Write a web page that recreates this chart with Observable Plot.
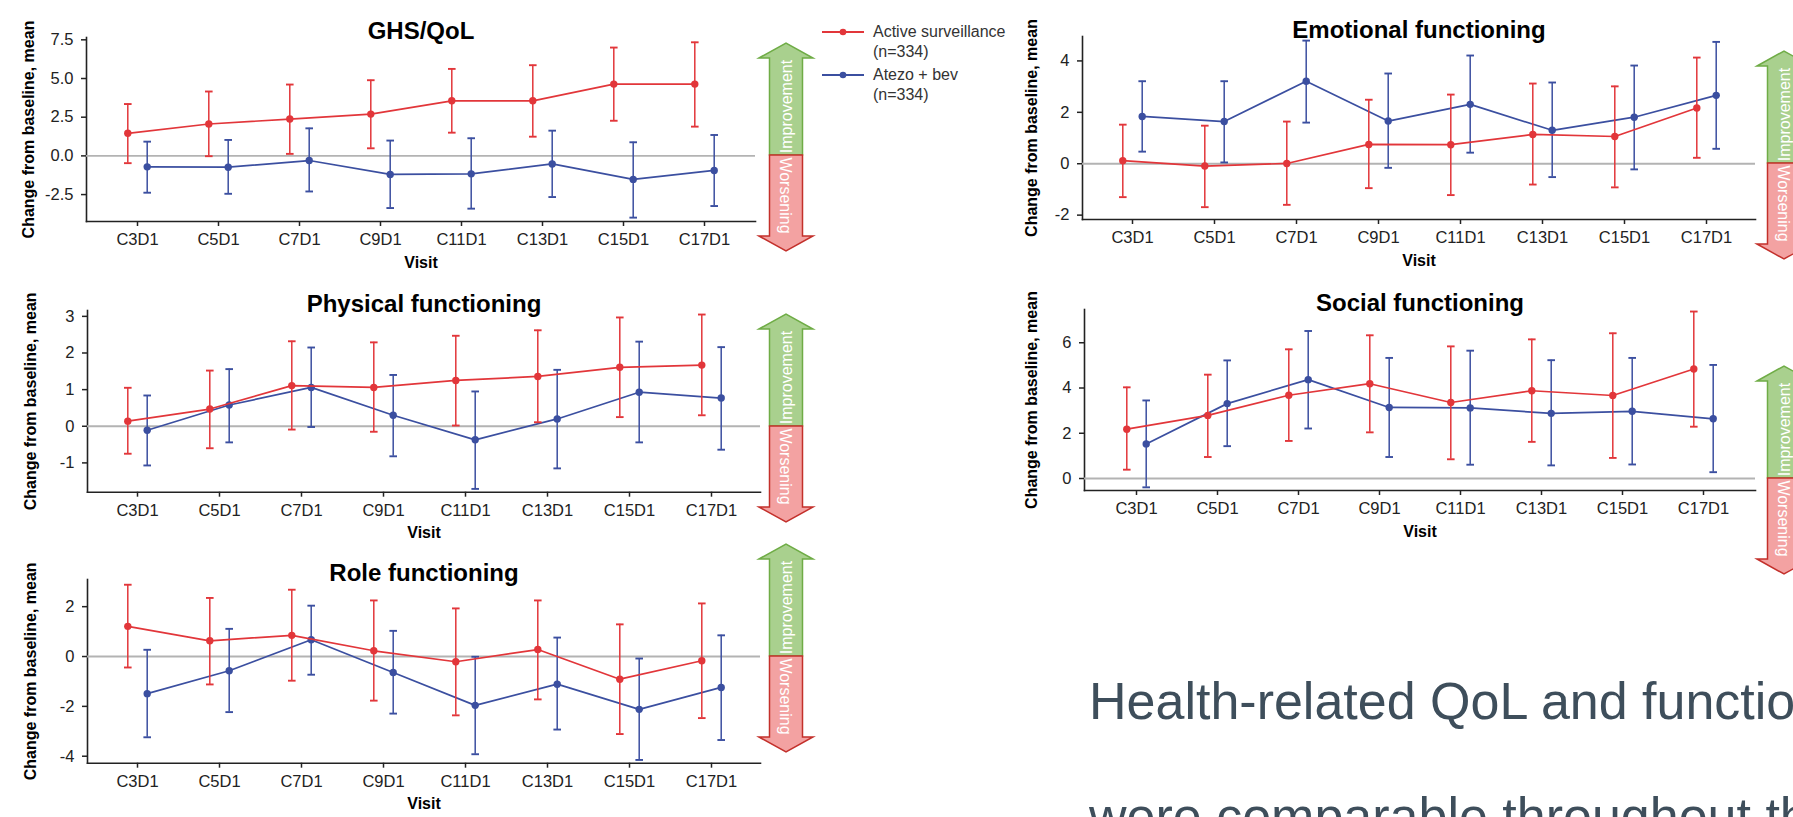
<!DOCTYPE html>
<html>
<head>
<meta charset="utf-8">
<script src="https://cdn.jsdelivr.net/npm/d3@7"></script>
<script src="https://cdn.jsdelivr.net/npm/@observablehq/plot@0.6"></script>
<style>
  html, body { margin: 0; padding: 0; background: #fff; }
  body { width: 1793px; height: 817px; overflow: hidden; position: relative; font-family: "Liberation Sans", Arial, sans-serif; }
  .abs { position: absolute; }
  svg [aria-label="frame"], svg [aria-label="frame"] * { stroke-width: 1.6px; }
  svg [aria-label="x-axis tick"], svg [aria-label="y-axis tick"] { stroke-width: 1.5px; }
</style>
</head>
<body>
<script>
// ---------- data ----------
const visits = ["C3D1", "C5D1", "C7D1", "C9D1", "C11D1", "C13D1", "C15D1", "C17D1"];
const seriesNames = ["Active surveillance", "Atezo + bev"];
const seriesN = ["(n=334)", "(n=334)"];

// each entry: [mean, lower, upper]
const ghsActive = [[1.46,-0.47,3.35],[2.06,-0.02,4.16],[2.38,0.13,4.61],[2.70,0.49,4.89],[3.56,1.50,5.62],[3.56,1.24,5.86],[4.64,2.27,7.00],[4.64,1.89,7.34]];
const ghsAtezo  = [[-0.71,-2.38,0.92],[-0.73,-2.45,1.03],[-0.30,-2.30,1.78],[-1.20,-3.37,0.99],[-1.16,-3.41,1.14],[-0.52,-2.66,1.63],[-1.52,-3.99,0.88],[-0.94,-3.24,1.35]];

const physActive = [[0.14,-0.75,1.05],[0.47,-0.60,1.52],[1.11,-0.09,2.32],[1.06,-0.15,2.29],[1.25,0.02,2.47],[1.36,0.11,2.62],[1.61,0.25,2.97],[1.67,0.30,3.05]];
const physAtezo  = [[-0.11,-1.07,0.84],[0.58,-0.44,1.56],[1.06,-0.02,2.15],[0.30,-0.82,1.40],[-0.37,-1.71,0.95],[0.20,-1.15,1.54],[0.93,-0.44,2.31],[0.77,-0.64,2.16]];

const roleActive = [[1.21,-0.44,2.88],[0.63,-1.12,2.35],[0.85,-0.97,2.68],[0.23,-1.77,2.25],[-0.21,-2.36,1.93],[0.28,-1.72,2.25],[-0.91,-3.11,1.29],[-0.17,-2.47,2.13]];
const roleAtezo  = [[-1.49,-3.24,0.27],[-0.57,-2.23,1.11],[0.67,-0.73,2.04],[-0.64,-2.29,1.03],[-1.96,-3.92,-0.01],[-1.11,-2.93,0.76],[-2.12,-4.15,-0.08],[-1.24,-3.35,0.85]];

const emoActive = [[0.12,-1.30,1.52],[-0.09,-1.69,1.48],[0.01,-1.60,1.64],[0.75,-0.95,2.49],[0.74,-1.22,2.69],[1.14,-0.81,3.12],[1.06,-0.92,3.01],[2.17,0.23,4.13]];
const emoAtezo  = [[1.84,0.47,3.21],[1.64,0.05,3.21],[3.21,1.60,4.79],[1.66,-0.16,3.51],[2.31,0.43,4.21],[1.30,-0.52,3.16],[1.81,-0.22,3.82],[2.66,0.58,4.74]];

const socActive = [[2.18,0.39,4.03],[2.79,0.95,4.59],[3.68,1.66,5.71],[4.19,2.04,6.33],[3.36,0.85,5.84],[3.88,1.62,6.15],[3.67,0.91,6.42],[4.84,2.29,7.38]];
const socAtezo  = [[1.53,-0.39,3.45],[3.31,1.43,5.22],[4.37,2.21,6.52],[3.14,0.95,5.33],[3.12,0.61,5.65],[2.88,0.58,5.23],[2.97,0.62,5.33],[2.64,0.28,5.02]];

const ghsTicks  = [-2.5, 0, 2.5, 5, 7.5];
const physTicks = [-1, 0, 1, 2, 3];
const roleTicks = [-4, -2, 0, 2];
const emoTicks  = [-2, 0, 2, 4];
const socTicks  = [0, 2, 4, 6];

const titles = ["GHS/QoL", "Physical functioning", "Role functioning", "Emotional functioning", "Social functioning"];
const yLabel = "Change from baseline, mean";
const xLabel = "Visit";
const arrowLabels = ["Improvement", "Worsening"];
const bodyLines = ["Health-related QoL and functioning", "were comparable throughout the"];

// ---------- styles ----------
const RED = "#e2363a";
const BLUE = "#3b4fa0";
const fmt1 = d => d.toFixed(1);
const fmt0 = d => String(d);

const panels = [
  {title: titles[0], a: ghsActive,  b: ghsAtezo,  ticks: ghsTicks,  fmt: fmt1, domain: [-4.24, 7.65], left: 0,    top: 0,   width: 760, height: 280, mt: 37, mb: 59,   ml: 86, mr: 5,  pad: 0.58, arrowX: 759,  ylx: -58},
  {title: titles[1], a: physActive, b: physAtezo, ticks: physTicks, fmt: fmt0, domain: [-1.80, 3.16], left: 0,    top: 270, width: 765, height: 280, mt: 40, mb: 58.3, ml: 87, mr: 5,  pad: 0.58, arrowX: 759,  ylx: -57},
  {title: titles[2], a: roleActive, b: roleAtezo, ticks: roleTicks, fmt: fmt0, domain: [-4.28, 3.09], left: 0,    top: 540, width: 765, height: 277, mt: 39, mb: 54.3, ml: 87, mr: 5,  pad: 0.58, arrowX: 759,  ylx: -57},
  {title: titles[3], a: emoActive,  b: emoAtezo,  ticks: emoTicks,  fmt: fmt0, domain: [-2.17, 4.95], left: 1000, top: 0,   width: 793, height: 280, mt: 36, mb: 61,   ml: 82, mr: 38, pad: 0.6,  arrowX: 1757, ylx: -51},
  {title: titles[4], a: socActive,  b: socAtezo,  ticks: socTicks,  fmt: fmt0, domain: [-0.53, 7.47], left: 1000, top: 270, width: 793, height: 280, mt: 39, mb: 60,   ml: 84, mr: 38, pad: 0.6,  arrowX: 1757, ylx: -53}
];

const capSymbol = {
  draw(ctx, size) {
    const r = Math.sqrt(size / Math.PI);
    ctx.moveTo(-r, 0);
    ctx.lineTo(r, 0);
  }
};

function rows(arr) {
  return visits.map((v, i) => ({visit: v, mean: arr[i][0], lo: arr[i][1], hi: arr[i][2]}));
}

function seriesMarks(data, color, off) {
  return [
    Plot.ruleX(data, {x: "visit", y1: "lo", y2: "hi", stroke: color, strokeWidth: 1.5, dx: off}),
    Plot.dot(data, {x: "visit", y: "lo", symbol: capSymbol, r: 3.8, fill: "none", stroke: color, strokeWidth: 1.9, dx: off}),
    Plot.dot(data, {x: "visit", y: "hi", symbol: capSymbol, r: 3.8, fill: "none", stroke: color, strokeWidth: 1.9, dx: off}),
    Plot.lineY(data, {x: "visit", y: "mean", stroke: color, strokeWidth: 1.7, dx: off}),
    Plot.dot(data, {x: "visit", y: "mean", r: 3.7, fill: color, dx: off})
  ];
}

const body = document.body;

function place(el, left, top) {
  el.classList.add("abs");
  el.style.left = left + "px";
  el.style.top = top + "px";
  body.appendChild(el);
  return el;
}

const arrowInfo = [];

for (const p of panels) {
  const chart = Plot.plot({
    width: p.width,
    height: p.height,
    marginLeft: p.ml,
    marginRight: p.mr,
    marginTop: p.mt,
    marginBottom: p.mb,
    style: {fontSize: "16.5px", fontFamily: "Liberation Sans, Arial, sans-serif", color: "#222", background: "transparent", overflow: "visible"},
    x: {type: "point", domain: visits, padding: p.pad, tickSize: 5, tickPadding: 7, line: true, label: null},
    y: {domain: p.domain, ticks: p.ticks, tickFormat: p.fmt, tickSize: 5, tickPadding: 8, line: true, label: null},
    marks: [
      Plot.ruleY([0], {stroke: "#b3b3b3", strokeWidth: 1.8}),
      ...seriesMarks(rows(p.b), BLUE, 9.7),
      ...seriesMarks(rows(p.a), RED, -9.7),
      Plot.text([p.title], {frameAnchor: "top", dy: -15.5, textAnchor: "middle", fontSize: 24, fontWeight: "bold", fill: "#000"}),
      Plot.text([xLabel], {frameAnchor: "bottom", dy: 46, textAnchor: "middle", fontSize: 16, fontWeight: "bold", fill: "#000"}),
      Plot.text([yLabel], {frameAnchor: "left", dx: p.ylx, rotate: -90, textAnchor: "middle", lineAnchor: "middle", fontSize: 16, fontWeight: "bold", fill: "#000"})
    ]
  });
  place(chart, p.left, p.top);
  arrowInfo.push({x: p.arrowX, zero: p.top + chart.scale("y").apply(0)});
}

// ---------- improvement / worsening arrows ----------
const NS = "http://www.w3.org/2000/svg";
for (const a of arrowInfo) {
  const W = 56, up = 112, down = 96, head = 15, half = 27, sh = 16.5;
  const svg = document.createElementNS(NS, "svg");
  svg.setAttribute("width", W);
  svg.setAttribute("height", up + down + 4);
  const cx = W / 2, z = up + 2, tip = 2, bot = up + down + 2;
  const g = `M${cx - half},${tip + head} L${cx},${tip} L${cx + half},${tip + head} L${cx + sh},${tip + head} L${cx + sh},${z} L${cx - sh},${z} L${cx - sh},${tip + head} Z`;
  const r = `M${cx - half},${bot - head} L${cx},${bot} L${cx + half},${bot - head} L${cx + sh},${bot - head} L${cx + sh},${z} L${cx - sh},${z} L${cx - sh},${bot - head} Z`;
  svg.innerHTML = `
    <path d="${g}" fill="#a9d08e" stroke="#6fac46" stroke-width="1.5"/>
    <path d="${r}" fill="#f3a2a2" stroke="#c3302b" stroke-width="1.5"/>
    <text transform="translate(${cx},${(tip + head + z) / 2}) rotate(-90)" text-anchor="middle" dy="0.35em" fill="#fff" font-size="16" font-family="Liberation Sans, Arial, sans-serif">${arrowLabels[0]}</text>
    <text transform="translate(${cx},${(z + bot - head) / 2}) rotate(90)" text-anchor="middle" dy="0.35em" fill="#fff" font-size="16" font-family="Liberation Sans, Arial, sans-serif">${arrowLabels[1]}</text>`;
  svg.style.overflow = "visible";
  place(svg, a.x - (cx - half), a.zero - z);
}

// ---------- legend ----------
const legendColors = [RED, BLUE];
const legendY = [32, 75];
seriesNames.forEach((name, i) => {
  const sw = document.createElementNS(NS, "svg");
  sw.setAttribute("width", 44);
  sw.setAttribute("height", 12);
  sw.innerHTML = `<line x1="1" x2="43" y1="6" y2="6" stroke="${legendColors[i]}" stroke-width="1.8"/><circle cx="22" cy="6" r="3.3" fill="${legendColors[i]}"/>`;
  place(sw, 821, legendY[i] - 6);
  const t = document.createElement("div");
  t.style.font = "16px 'Liberation Sans', Arial, sans-serif";
  t.style.color = "#333";
  t.style.lineHeight = "20px";
  t.style.whiteSpace = "nowrap";
  t.innerHTML = `${name}<br>${seriesN[i]}`;
  place(t, 873, legendY[i] - 10);
});

// ---------- slide body text ----------
bodyLines.forEach((line, i) => {
  const d = document.createElement("div");
  d.textContent = line;
  d.style.font = "52px 'Liberation Sans', Arial, sans-serif";
  d.style.lineHeight = "52px";
  d.style.color = "#3e4e5b";
  d.style.whiteSpace = "nowrap";
  place(d, 1089, 675 + i * 115);
});
</script>
</body>
</html>
